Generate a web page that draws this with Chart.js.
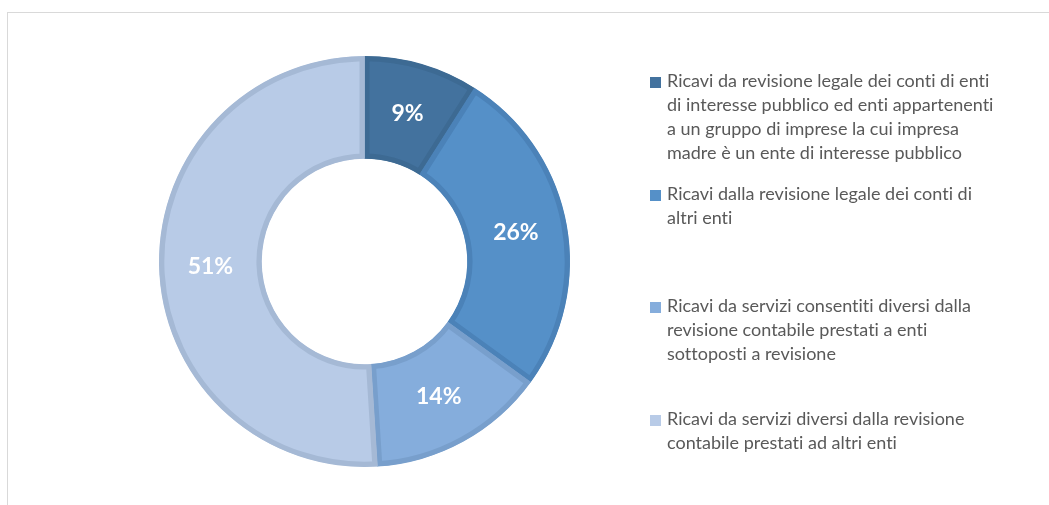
<!DOCTYPE html>
<html>
<head>
<meta charset="utf-8">
<script src="https://cdn.jsdelivr.net/npm/chart.js@4.4.0/dist/chart.umd.min.js"></script>
<style>
  html, body { margin: 0; padding: 0; background: #fff; }
  body { width: 1049px; height: 505px; overflow: hidden; position: relative; font-family: Lato, "Open Sans", sans-serif; }
  #frame { position: absolute; left: 7px; top: 12px; width: 1100px; height: 600px; border: 1px solid #d9d9d9; }
  #chartBox { position: absolute; left: 0; top: 0; width: 1049px; height: 505px; }
  #legend { position: absolute; left: 650px; top: 0; }
  .item { position: absolute; left: 0; display: flex; white-space: nowrap; }
  .box { width: 11px; height: 11px; margin-top: 9px; margin-right: 6px; flex: none; }
  .txt { color: #595959; font-size: 18px; line-height: 24px; font-variant-ligatures: none; }
</style>
</head>
<body>
<div id="frame"></div>
<div id="chartBox"><canvas id="ricaviChart"></canvas></div>
<div id="legend"></div>
<script>
    // categorie (già spezzate in righe come nella legenda originale)
    var labels = [
        ['Ricavi da revisione legale dei conti di enti', 'di interesse pubblico ed enti appartenenti', 'a un gruppo di imprese la cui impresa', 'madre è un ente di interesse pubblico'],
        ['Ricavi dalla revisione legale dei conti di', 'altri enti'],
        ['Ricavi da servizi consentiti diversi dalla', 'revisione contabile prestati a enti', 'sottoposti a revisione'],
        ['Ricavi da servizi diversi dalla revisione', 'contabile prestati ad altri enti']
    ];
    var values = [9, 26, 14, 51];

    var fillColors = ['#43729e', '#5590c8', '#85addc', '#b8cbe7'];
    var borderColors = ['#3d6a93', '#4b82b8', '#789fcc', '#a5b9d5'];

    /* etichette percentuali dentro le fette */
    var pctLabels = {
        id: 'pctLabels',
        afterDatasetsDraw: function(chart) {
            var ctx = chart.ctx;
            var meta = chart.getDatasetMeta(0);
            ctx.save();
            ctx.font = 'bold 23px Lato';
            ctx.fillStyle = '#ffffff';
            ctx.textAlign = 'center';
            ctx.textBaseline = 'middle';
            meta.data.forEach(function(arc, i) {
                var p = arc.tooltipPosition();
                ctx.fillText(chart.data.datasets[0].data[i] + '%', p.x, p.y);
            });
            ctx.restore();
        }
    };

    var ctx = document.getElementById('ricaviChart').getContext('2d');
    var chart = new Chart(ctx, {
        type: 'doughnut',
        data: {
            labels: labels,
            datasets: [{
                data: values,
                backgroundColor: fillColors,
                borderColor: borderColors,
                borderWidth: 5,
                borderAlign: 'inner'
            }]
        },
        options: {
            responsive: true,
            maintainAspectRatio: false,
            animation: false,
            events: [],
            cutout: '50%',
            layout: {
                padding: { left: 159, top: 56, right: 479, bottom: 38 }
            },
            plugins: {
                legend: { display: false },
                tooltip: { enabled: false }
            }
        },
        plugins: [pctLabels]
    });

    // legenda HTML a destra
    var legendEl = document.getElementById('legend');
    chart.data.labels.forEach(function(lines, i) {
        var item = document.createElement('div');
        item.className = 'item';
        item.style.top = (68 + i * 112.5) + 'px';
        var box = document.createElement('div');
        box.className = 'box';
        box.style.background = fillColors[i];
        var txt = document.createElement('div');
        txt.className = 'txt';
        txt.innerHTML = lines.join('<br>');
        item.appendChild(box);
        item.appendChild(txt);
        legendEl.appendChild(item);
    });
</script>
</body>
</html>
